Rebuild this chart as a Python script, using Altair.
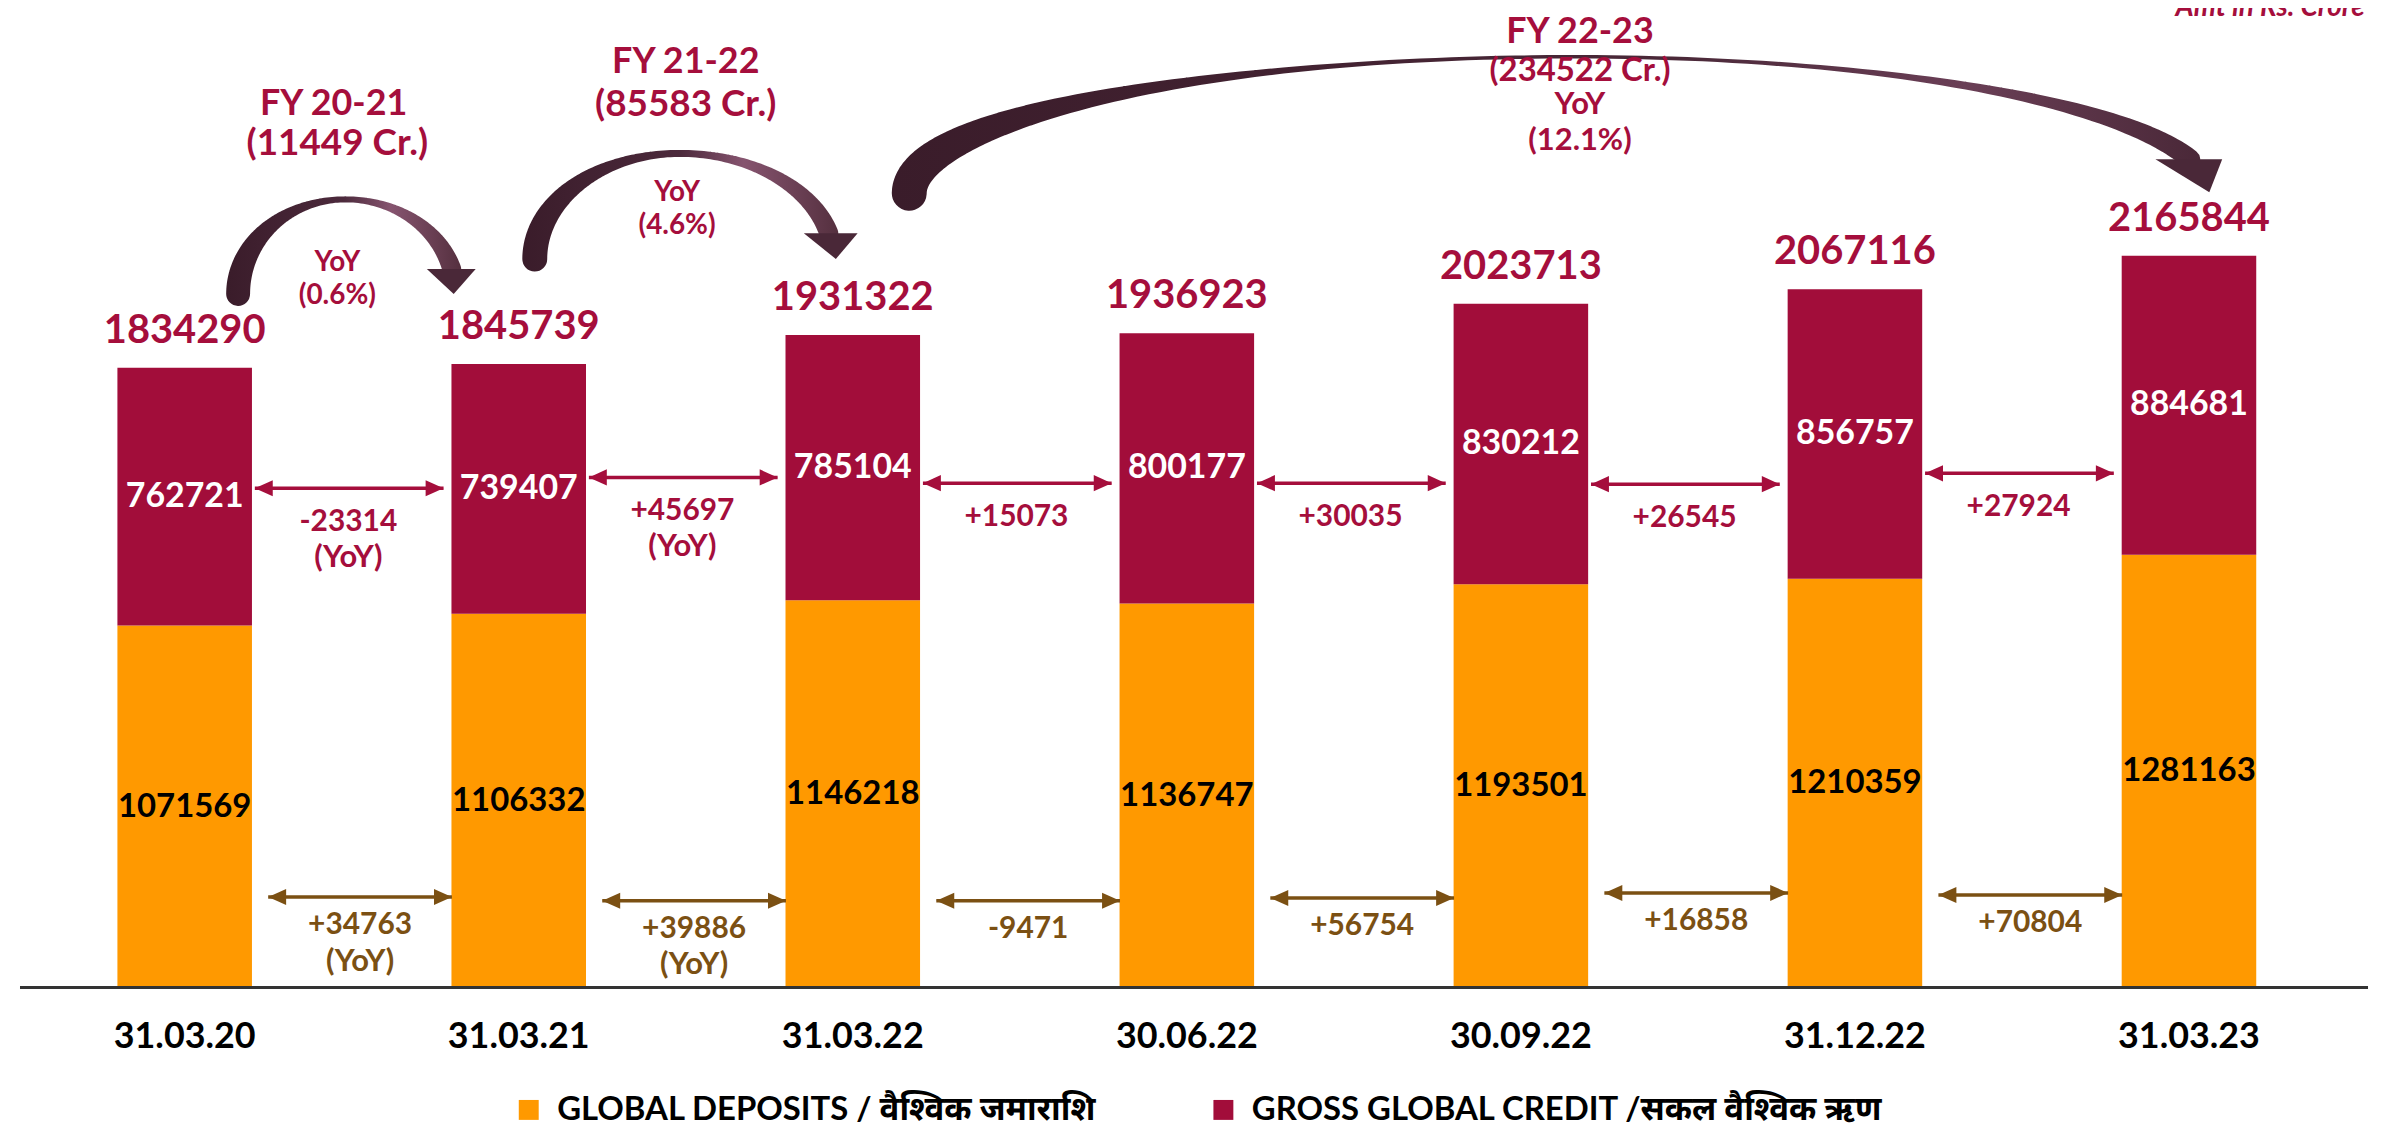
import altair as alt
import numpy as np
import pandas as pd

# ---------------- data ----------------
dates = ["31.03.20", "31.03.21", "31.03.22", "30.06.22", "30.09.22", "31.12.22", "31.03.23"]
deposits = [1071569, 1106332, 1146218, 1136747, 1193501, 1210359, 1281163]
credit = [762721, 739407, 785104, 800177, 830212, 856757, 884681]
totals = [1834290, 1845739, 1931322, 1936923, 2023713, 2067116, 2165844]
credit_change = ["-23314", "+45697", "+15073", "+30035", "+26545", "+27924"]
deposit_change = ["+34763", "+39886", "-9471", "+56754", "+16858", "+70804"]
change_note = ["(YoY)", "(YoY)", "", "", "", ""]
fy_names = ["FY 20-21", "FY 21-22", "FY 22-23"]
fy_growth = ["(11449 Cr.)", "(85583 Cr.)", "(234522 Cr.)"]
fy_pct = ["(0.6%)", "(4.6%)", "(12.1%)"]
series = ["GLOBAL DEPOSITS / वैश्विक जमाराशि", "GROSS GLOBAL CREDIT /सकल वैश्विक ऋण"]
unit_note = "Amt in Rs. Crore"

# ---------------- styles / layout ----------------
ORANGE = "#FF9900"
CRIMSON = "#A20D3A"
TEXT_CRIMSON = "#A50E3C"
BROWN = "#7B5013"
HEAD = "#4A2838"
FONT = "Lato, 'Open Sans', 'Noto Sans', sans-serif"
W, H = 2373, 1122
X_DOMAIN = [-0.514, 6.536]
Y_DOMAIN = [-416000, 2893800]

xs = alt.Scale(domain=X_DOMAIN, nice=False, zero=False)
ys = alt.Scale(domain=Y_DOMAIN, nice=False, zero=False)


def X(f):
    return alt.X(f, type="quantitative", scale=xs, axis=None)


def Y(f):
    return alt.Y(f, type="quantitative", scale=ys, axis=None)


idx = list(range(len(dates)))

# ---------------- bars ----------------
rows = []
for i in idx:
    rows.append({"idx": i, "series": series[0], "y0": 0, "y1": deposits[i]})
    rows.append({"idx": i, "series": series[1], "y0": deposits[i], "y1": deposits[i] + credit[i]})
bars_df = pd.DataFrame(rows)

bars = alt.Chart(bars_df).mark_bar(size=135).encode(
    x=X("idx"),
    y=Y("y0"),
    y2="y1:Q",
    color=alt.Color(
        "series:N",
        scale=alt.Scale(domain=series, range=[ORANGE, CRIMSON]),
        legend=alt.Legend(
            title=None, orient="none", legendX=506, legendY=1087,
            direction="horizontal", symbolType="square", symbolSize=400,
            symbolStrokeWidth=0, symbolOpacity=1, labelFont=FONT, labelFontSize=33,
            labelFontWeight="bold", labelColor="#000000", labelOffset=12,
            labelLimit=1000, columnPadding=110, padding=0,
        ),
    ),
)

base_df = pd.DataFrame({
    "idx": idx, "date": dates, "dep": deposits, "cred": credit, "total": totals,
    "dep_mid": [d / 2 for d in deposits],
    "cred_mid": [d + c / 2 for d, c in zip(deposits, credit)],
})
bold = dict(font=FONT, fontWeight="bold", align="center")

total_text = alt.Chart(base_df).mark_text(baseline="alphabetic", dy=-25, fontSize=40,
                                          color=TEXT_CRIMSON, **bold).encode(
    x=X("idx"), y=Y("total"), text="total:N")
cred_text = alt.Chart(base_df).mark_text(baseline="middle", fontSize=34, color="white", **bold).encode(
    x=X("idx"), y=Y("cred_mid"), text="cred:N")
dep_text = alt.Chart(base_df).mark_text(baseline="middle", fontSize=33, color="black", **bold).encode(
    x=X("idx"), y=Y("dep_mid"), text="dep:N")
date_text = alt.Chart(base_df.assign(zero=0)).mark_text(baseline="alphabetic", dy=61, fontSize=36,
                                                       color="black", **bold).encode(
    x=X("idx"), y=Y("zero"), text="date:N")

baseline = alt.Chart(pd.DataFrame({"a": [-0.493], "b": [X_DOMAIN[1]], "y": [0]})).mark_rule(
    color="#333333", strokeWidth=3).encode(x=X("a"), x2="b:Q", y=Y("y"))

# ---------------- straight change arrows ----------------
CREDIT_ARROW_Y = [1478000, 1510000, 1493000, 1493000, 1490000, 1522000]
DEPOSIT_ARROW_Y = [268000, 257000, 257000, 265000, 280000, 274000]

c_df = pd.DataFrame({
    "x1": [i + 0.21 for i in idx[:-1]], "x2": [i + 0.775 for i in idx[:-1]],
    "xm": [i + 0.49 for i in idx[:-1]], "y": CREDIT_ARROW_Y,
    "label": credit_change, "note": change_note,
})
d_df = pd.DataFrame({
    "x1": [i + 0.25 for i in idx[:-1]], "x2": [i + 0.80 for i in idx[:-1]],
    "xm": [i + 0.525 for i in idx[:-1]], "y": DEPOSIT_ARROW_Y,
    "label": deposit_change, "note": change_note,
})

LEFT_HEAD = "M0,0L1,-0.45L1,0.45Z"
RIGHT_HEAD = "M0,0L-1,-0.45L-1,0.45Z"


def arrow_layers(df, color, dy1, dy2):
    rule = alt.Chart(df).mark_rule(color=color, strokeWidth=3.5).encode(
        x=X("x1"), x2="x2:Q", y=Y("y"))
    lh = alt.Chart(df).mark_point(shape=LEFT_HEAD, filled=True, size=1296, opacity=1,
                                  color=color, strokeWidth=0).encode(x=X("x1"), y=Y("y"))
    rh = alt.Chart(df).mark_point(shape=RIGHT_HEAD, filled=True, size=1296, opacity=1,
                                  color=color, strokeWidth=0).encode(x=X("x2"), y=Y("y"))
    t1 = alt.Chart(df).mark_text(baseline="middle", dy=dy1, fontSize=30, color=color, **bold).encode(
        x=X("xm"), y=Y("y"), text="label:N")
    t2 = alt.Chart(df).transform_filter("datum.note != ''").mark_text(
        baseline="middle", dy=dy2, fontSize=31, color=color, **bold).encode(
        x=X("xm"), y=Y("y"), text="note:N")
    return [rule, lh, rh, t1, t2]


c_layers = arrow_layers(c_df, TEXT_CRIMSON, 34, 70)
d_layers = arrow_layers(d_df, BROWN, 28, 65)

# ---------------- curved FY arrows ----------------
# (cx, cy, rx_left, rx_right, ry, end angle deg, w_left, w_apex, w_right, exponent)
ARCS = [
    (0.481, 2053000, 0.321, 0.330, 280000, 15.3, 24, 6, 20, 2),
    (1.482, 2156300, 0.434, 0.460, 312700, 14.2, 25, 7, 20, 2),
    (4.162, 2351000, 1.993, 1.901, 404100, 14.4, 35, 3.5, 22, 3),
]
HEADS = [
    (0.798, 2090000, 2401, "M-1,-0.51L1,-0.51L0.1,0.51Z"),
    (1.934, 2194700, 2916, "M-1,-0.48L1,-0.48L0.19,0.48Z"),
    (5.998, 2401200, 4624, "M-0.97,-0.5L1,-0.5L0.62,0.47Z"),
]
GRADS = [
    [(0, "#3A1C2A"), (0.5, "#4C2A3C"), (0.7, "#86546F"), (1, "#55303F")],
    [(0, "#3A1C2A"), (0.5, "#4C2A3C"), (0.7, "#86546F"), (1, "#55303F")],
    [(0, "#3A1C2A"), (0.6, "#4A2838"), (0.82, "#6A3F56"), (1, "#4A2838")],
]

arc_layers = []
for k, (cx, cy, rxl, rxr, ry, te, wl, wa, wr, ex) in enumerate(ARCS):
    th = np.linspace(180, te, 120)
    rad = np.deg2rad(th)
    c = np.cos(rad)
    rx = np.where(th >= 90, rxl, rxr)
    wend = np.where(th >= 90, wl, wr)
    df = pd.DataFrame({
        "o": np.arange(len(th)),
        "x": cx + rx * c,
        "y": cy + ry * np.sin(rad),
        "w": wa + (wend - wa) * np.abs(c) ** ex,
    })
    grad = alt.LinearGradient(
        gradient="linear", x1=0, x2=1, y1=0, y2=0,
        stops=[alt.GradientStop(offset=o, color=col) for o, col in GRADS[k]],
    )
    arc_layers.append(
        alt.Chart(df).mark_trail(color=grad).encode(
            x=X("x"), y=Y("y"), order="o:Q", size=alt.Size("w:Q", scale=None))
    )
    hx, hy, hs, hp = HEADS[k]
    arc_layers.append(
        alt.Chart(pd.DataFrame({"x": [hx], "y": [hy]})).mark_point(
            shape=hp, filled=True, size=hs, opacity=1, color=HEAD, strokeWidth=0
        ).encode(x=X("x"), y=Y("y"))
    )

# FY annotation text
FY_TEXT_POS = [
    # (x, y_name, y_growth, y_yoy, y_pct, x_yoy)
    (0.446, 2616600, 2495500, 2144500, 2047200, 0.457),
    (1.500, 2740500, 2613500, 2351000, 2253700, 1.474),
    (4.177, 2829000, 2713800, 2613600, 2504400, 4.177),
]
fy_rows = []
for k in range(3):
    x, yn, yg, yy, yp, xy = FY_TEXT_POS[k]
    fy_rows.append({"x": x, "y": yn, "t": fy_names[k], "kind": "name"})
    fy_rows.append({"x": x + (0.011 if k == 0 else 0), "y": yg, "t": fy_growth[k],
                    "kind": "growth" if k < 2 else "growth3"})
    fy_rows.append({"x": xy, "y": yy, "t": "YoY", "kind": "yoy" if k < 2 else "yoy3"})
    fy_rows.append({"x": xy, "y": yp, "t": fy_pct[k], "kind": "yoy" if k < 2 else "yoy3"})
fy_df = pd.DataFrame(fy_rows)


def fy_text(kind, size):
    return alt.Chart(fy_df).transform_filter(alt.datum.kind == kind).mark_text(
        baseline="middle", fontSize=size, color=TEXT_CRIMSON, **bold).encode(
        x=X("x"), y=Y("y"), text="t:N")


fy_layers = [fy_text("name", 36), fy_text("growth", 37), fy_text("growth3", 33),
             fy_text("yoy", 28), fy_text("yoy3", 31)]

unit = alt.Chart(pd.DataFrame({"x": [5.96], "y": [2876000], "t": [unit_note]})).mark_text(
    align="left", baseline="alphabetic", fontSize=28, font=FONT, fontStyle="italic",
    fontWeight="bold", color=TEXT_CRIMSON).encode(x=X("x"), y=Y("y"), text="t:N")

chart = alt.layer(
    bars, baseline, total_text, cred_text, dep_text, date_text,
    *c_layers, *d_layers, *arc_layers, *fy_layers, unit,
).properties(
    width=W, height=H, autosize=alt.AutoSizeParams(type="none"), padding=0,
).configure_view(strokeWidth=0)

chart.save("out.html", embed_options={"renderer": "svg", "actions": False})
